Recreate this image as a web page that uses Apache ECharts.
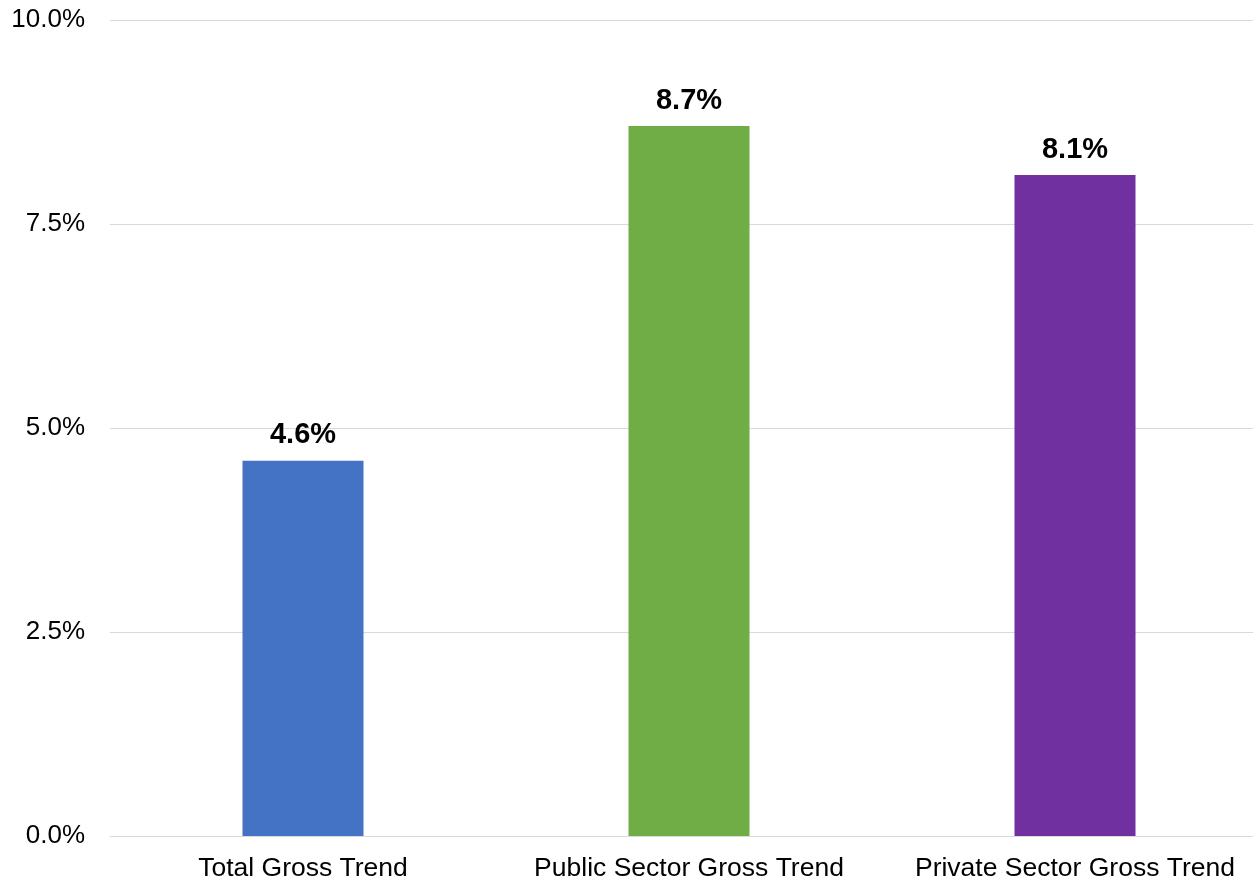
<!DOCTYPE html>
<html>
<head>
<meta charset="utf-8">
<style>
  html, body { margin: 0; padding: 0; background: #ffffff; }
  #chart { width: 1253px; height: 881px; }
</style>
<script src="https://cdn.jsdelivr.net/npm/echarts@6/dist/echarts.min.js"></script>
</head>
<body>
<div id="chart"></div>
<script>
// Gross trend by sector, in percent
const categories = ['Total Gross Trend', 'Public Sector Gross Trend', 'Private Sector Gross Trend'];
const values = [4.6, 8.7, 8.1];
const barColors = ['#4472C4', '#70AD47', '#7030A0'];

const chart = echarts.init(document.getElementById('chart'), null, { renderer: 'canvas' });

chart.setOption({
  animation: false,
  backgroundColor: '#ffffff',
  // plot area runs slightly past the right edge of the canvas
  grid: { left: 110, width: 1158, top: 20, bottom: 45, containLabel: false, outerBoundsMode: 'none' },
  xAxis: {
    type: 'category',
    data: categories,
    axisLine: { show: true, lineStyle: { color: '#d9d9d9', width: 1 } },
    axisTick: { show: false },
    axisLabel: {
      interval: 0,
      hideOverlap: false,
      color: '#000000',
      fontFamily: 'Liberation Sans, Arial, sans-serif',
      fontSize: 26.5,
      margin: 19
    }
  },
  yAxis: {
    type: 'value',
    min: 0,
    max: 10,
    interval: 2.5,
    axisLine: { show: false },
    axisTick: { show: false },
    splitLine: { lineStyle: { color: '#d9d9d9', width: 1 } },
    axisLabel: {
      color: '#000000',
      fontFamily: 'Liberation Sans, Arial, sans-serif',
      fontSize: 26,
      margin: 25,
      formatter: v => v.toFixed(1) + '%'
    }
  },
  series: [{
    type: 'bar',
    barWidth: 121,
    data: values.map((v, i) => ({ value: v, itemStyle: { color: barColors[i] } })),
    label: {
      show: true,
      position: 'top',
      distance: 11,
      color: '#000000',
      fontWeight: 'bold',
      fontFamily: 'Liberation Sans, Arial, sans-serif',
      fontSize: 29,
      formatter: p => p.value.toFixed(1) + '%'
    }
  }]
});
</script>
</body>
</html>
